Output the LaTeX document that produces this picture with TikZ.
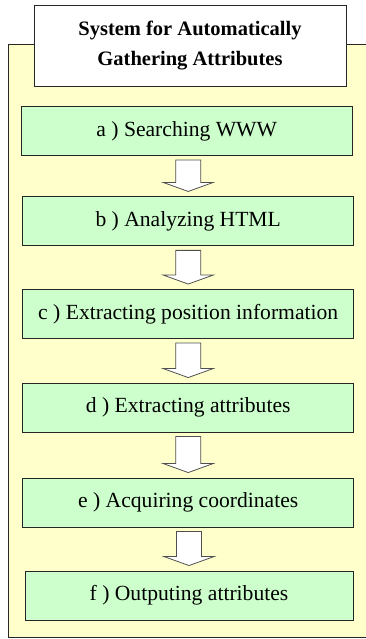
\documentclass[tikz,border=0pt]{standalone}
\usepackage{fontspec}
\setmainfont{Liberation Serif}
\usetikzlibrary{calc}
\definecolor{panelfill}{HTML}{FFFFCC}
\definecolor{stepfill}{HTML}{CCFFCC}
\definecolor{edgecol}{HTML}{262626}
\definecolor{arrowedge}{HTML}{505050}
\tikzset{
  panel/.style={draw=edgecol, line width=0.9pt, fill=panelfill},
  titlebox/.style={draw=edgecol, line width=0.9pt, fill=white, align=center,
    minimum width=312pt, minimum height=81pt, inner sep=0pt,
    font=\fontsize{20.5}{30}\selectfont\bfseries},
  stepbox/.style={draw=edgecol, line width=0.9pt, fill=stepfill,
    minimum width=331pt, minimum height=49pt, inner sep=0pt,
    font=\fontsize{21.6}{26}\selectfont},
  flowarrow/.style={draw=arrowedge, line width=0.8pt, fill=white, line join=miter},
}
% hollow block arrow from the bottom of one step to the top of the next
\newcommand\stepflow[2]{%
  \draw[flowarrow] let \p1=($(#1.south)+(0,4)$), \p2=($(#2.north)+(0,-5)$) in
    (\x2-12.5,\y1) -- (\x2+12.5,\y1) -- (\x2+12.5,\y2+9) -- (\x2+25,\y2+9)
    -- (\x2,\y2) -- (\x2-25,\y2+9) -- (\x2-12.5,\y2+9) -- cycle;}
\begin{document}
\begin{tikzpicture}[x=1pt,y=-1pt]
\useasboundingbox (0,0) rectangle (366,639);
\clip (0,0) rectangle (366,639);
% outer frame
\draw[panel] (8,44) rectangle (374,637.5);
% heading
\node[titlebox] (title) at (190,45.5) {System for Automatically\\Gathering Attributes};
% processing steps
\node[stepbox] (a) at (186.7,131)   {a ) Searching WWW};
\node[stepbox] (b) at (188.2,221.4) {b ) Analyzing HTML};
\node[stepbox] (c) at (188.2,314)   {c ) Extracting position information};
\node[stepbox] (d) at (188.2,407.5) {d ) Extracting attributes};
\node[stepbox] (e) at (188.2,502.5) {e ) Acquiring coordinates};
\node[stepbox, minimum width=328pt] (f) at (189,595.5) {f ) Outputing attributes};
% flow between steps
\stepflow{a}{b}
\stepflow{b}{c}
\stepflow{c}{d}
\stepflow{d}{e}
\stepflow{e}{f}
\end{tikzpicture}
\end{document}
